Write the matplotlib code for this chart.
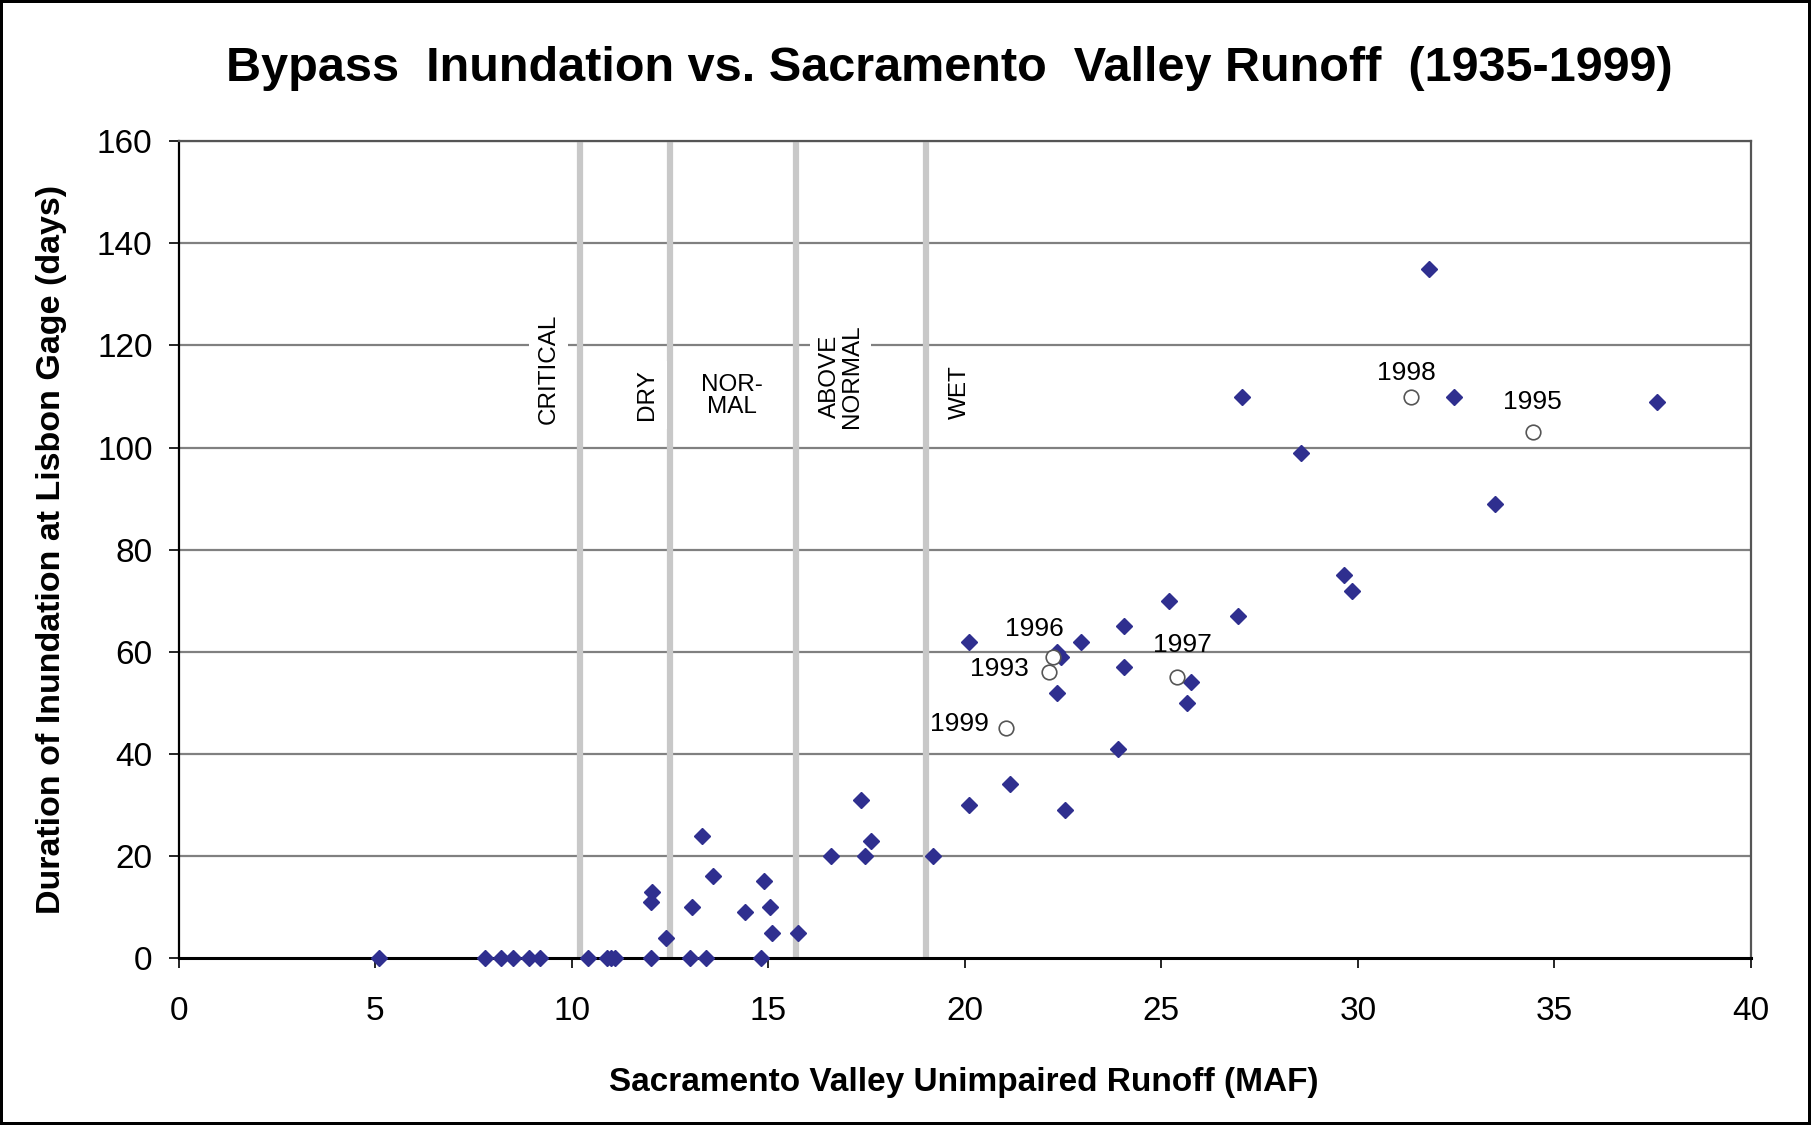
"""
Bypass inundation duration vs. Sacramento Valley runoff scatter
"""

import matplotlib
matplotlib.use('Agg')
from matplotlib import pyplot as plt


# data
# all years (filled diamonds): runoff (MAF) and days of inundation
RUNOFF = [5.1, 7.8, 8.2, 8.5, 8.9, 9.2, 10.4, 10.9, 11.0, 11.1, 12.0, 13.0,
          13.4, 14.8,
          12.0, 12.05, 12.4, 13.05, 13.3, 13.6, 14.4, 14.9, 15.05, 15.1,
          15.75, 16.6, 17.35, 17.45, 17.6, 19.2, 20.1, 20.1, 21.15, 22.35,
          22.45, 22.35, 22.55, 22.95, 23.9, 24.05, 24.05, 25.2, 25.65, 25.75,
          26.95, 27.05, 28.55, 29.65, 29.85, 31.8, 32.45, 33.5, 37.6]
DAYS = [0, 0, 0, 0, 0, 0, 0, 0, 0, 0, 0, 0,
        0, 0,
        11, 13, 4, 10, 24, 16, 9, 15, 10, 5,
        5, 20, 31, 20, 23, 20, 30, 62, 34, 60,
        59, 52, 29, 62, 41, 65, 57, 70, 50, 54,
        67, 110, 99, 75, 72, 135, 110, 89, 109]

# recent years highlighted with open circles
RECENT_YEARS = ['1999', '1993', '1996', '1997', '1998', '1995']
RECENT_RUNOFF = [21.05, 22.15, 22.25, 25.4, 31.35, 34.45]
RECENT_DAYS = [45, 56, 59, 55, 110, 103]

# water year type boundaries (MAF) and class names
CLASS_BOUNDS = [10.2, 12.5, 15.7, 19.0]
CLASS_NAMES = ['CRITICAL', 'DRY', 'NOR-\nMAL', 'ABOVE\nNORMAL', 'WET']

X_TICKS = [0, 5, 10, 15, 20, 25, 30, 35, 40]
Y_TICKS = [0, 20, 40, 60, 80, 100, 120, 140, 160]


def draw_chart():
    """Draw scatter with water year classes and save to out.png"""
    plt.rcParams['font.family'] = ['Liberation Sans', 'DejaVu Sans']

    # constants
    clr_pts = '#2f2f8f'
    clr_grid = '#808080'
    clr_bound = '#c8c8c8'

    fig = plt.figure(figsize=(18.11, 11.25), dpi=100)
    fig.patch.set_edgecolor('black')
    fig.patch.set_linewidth(4)
    ax = fig.add_axes([0.0988, 0.1484, 0.868, 0.726])

    # horizontal grid
    for y in Y_TICKS[1:]:
        ax.axhline(y, color=clr_grid, lw=1.6, zorder=1)

    # class boundaries
    for xb in CLASS_BOUNDS:
        ax.axvline(xb, color=clr_bound, lw=4.5, zorder=2)

    # class labels (positions in data units)
    label_pos = [(9.4, 115.4, 90), (11.92, 110.3, 90), (14.07, 110.2, 0),
                 (16.84, 114.0, 90), (19.87, 110.8, 90)]
    for name, (lx, ly, rot) in zip(CLASS_NAMES, label_pos):
        ax.text(lx, ly, name, rotation=rot, ha='center', va='center',
                fontsize=17.5, linespacing=1.0, zorder=3,
                bbox=dict(facecolor='white', edgecolor='none', pad=6))

    ax.plot(RUNOFF, DAYS, linestyle='none', marker='D', markersize=8,
            color=clr_pts, markeredgecolor=clr_pts, zorder=5, clip_on=False)
    ax.plot(RECENT_RUNOFF, RECENT_DAYS, linestyle='none', marker='o',
            markersize=10.5, markerfacecolor='white', markeredgecolor='#555555',
            markeredgewidth=1.2, zorder=6)

    # year labels, offsets in points from each circle
    offsets = {'1999': (-34, 3), '1993': (-36, 2), '1996': (-14, 20),
               '1997': (4, 23), '1998': (-3, 17), '1995': (0, 22)}
    for year, x, y in zip(RECENT_YEARS, RECENT_RUNOFF, RECENT_DAYS):
        ax.annotate(year, (x, y), xytext=offsets[year],
                    textcoords='offset points', ha='center', va='center',
                    fontsize=19, zorder=7)

    ax.set_xlim(0, 40)
    ax.set_ylim(0, 160)
    ax.set_xticks(X_TICKS)
    ax.set_yticks(Y_TICKS)
    ax.tick_params(axis='x', labelsize=24, length=7, width=1.2, pad=20)
    ax.tick_params(axis='y', labelsize=24, length=7, width=1.2, pad=12)

    ax.spines['bottom'].set_linewidth(2.2)
    ax.spines['left'].set_linewidth(1.6)
    for side in ['top', 'right']:
        ax.spines[side].set_color('#555555')
        ax.spines[side].set_linewidth(1.6)

    fig.text(0.524, 0.939, 'Bypass  Inundation vs. Sacramento  Valley Runoff  (1935-1999)',
             ha='center', va='center', fontsize=35, fontweight='bold')
    fig.text(0.532, 0.038, 'Sacramento Valley Unimpaired Runoff (MAF)',
             ha='center', va='center', fontsize=24, fontweight='bold')
    fig.text(0.0287, 0.512, 'Duration of Inundation at Lisbon Gage (days)',
             ha='center', va='center', rotation=90, fontsize=24.5,
             fontweight='bold')

    fig.savefig('out.png', dpi=100, edgecolor=fig.get_edgecolor())


if __name__ == '__main__':
    draw_chart()
